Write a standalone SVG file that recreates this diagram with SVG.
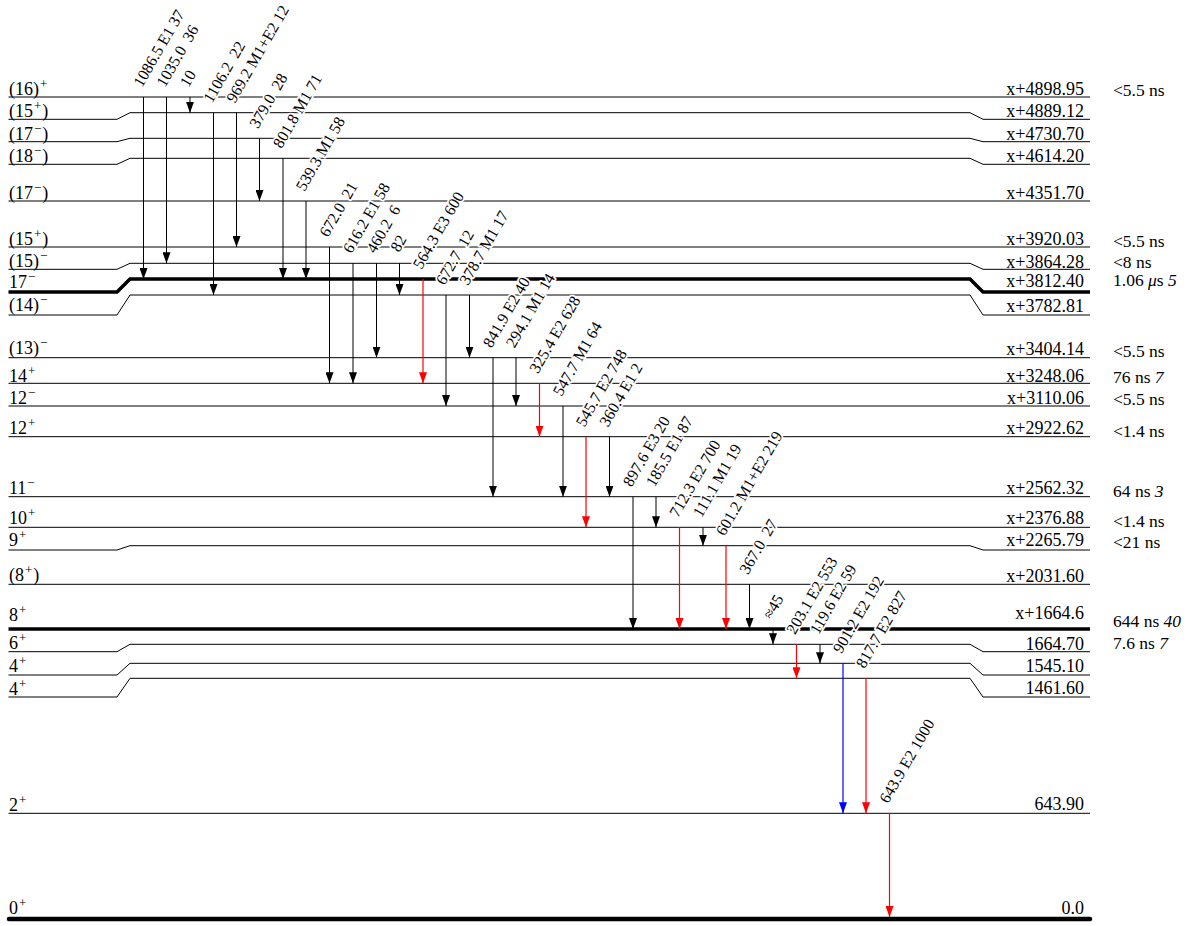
<svg xmlns="http://www.w3.org/2000/svg" width="1197" height="926" viewBox="0 0 1197 926">
<style>
.lv{fill:none;stroke:#000;stroke-width:1}
.thick{stroke-width:3.5}
.gs{stroke-width:4.5;stroke-linecap:round}
text{font-family:"Liberation Serif","Times New Roman",serif;font-size:18px;fill:#000}
.r{text-anchor:end}
.hl{font-size:17.5px}
.sup{font-size:13px}
.it{font-style:italic}
.tl{font-size:16px;stroke:#fff;stroke-width:3.5;paint-order:stroke;stroke-linejoin:round}
.k{stroke:#000;stroke-width:1}
.rd{stroke:#f00;stroke-width:1.2}
.bl{stroke:#00f;stroke-width:1.2}
</style>
<defs>
<marker id="ak" markerUnits="userSpaceOnUse" markerWidth="11" markerHeight="8" viewBox="0 0 11 8" refX="11" refY="4" orient="auto"><path d="M0,0 L11,4 L0,8 Z" fill="#000"/></marker>
<marker id="ar" markerUnits="userSpaceOnUse" markerWidth="11" markerHeight="8" viewBox="0 0 11 8" refX="11" refY="4" orient="auto"><path d="M0,0 L11,4 L0,8 Z" fill="#f00"/></marker>
<marker id="ab" markerUnits="userSpaceOnUse" markerWidth="11" markerHeight="8" viewBox="0 0 11 8" refX="11" refY="4" orient="auto"><path d="M0,0 L11,4 L0,8 Z" fill="#00f"/></marker>
</defs>

<g id="levels">
<g id="L4898"><path class="lv" d="M8.5,97 H1090"/><text x="9" y="95">(16)<tspan class="sup" dx="1" dy="-7">+</tspan></text><text class="r" x="1084" y="95">x+4898.95</text><text class="hl" x="1113" y="96">&lt;5.5 ns</text></g>
<g id="L4889"><path class="lv" d="M8.5,119.3 H117 L130,112.7 H970 L983,119.3 H1090"/><text x="9" y="116.5">(15<tspan class="sup" dx="1" dy="-7">+</tspan><tspan dx="1" dy="7">)</tspan></text><text class="r" x="1084" y="116.5">x+4889.12</text></g>
<g id="L4730"><path class="lv" d="M8.5,141.7 H117 L130,138.3 H970 L983,141.7 H1090"/><text x="9" y="140">(17<tspan class="sup" dx="1" dy="-7">−</tspan><tspan dx="1" dy="7">)</tspan></text><text class="r" x="1084" y="140">x+4730.70</text></g>
<g id="L4614"><path class="lv" d="M8.5,164.3 H117 L130,158.3 H970 L983,164.3 H1090"/><text x="9" y="161.5">(18<tspan class="sup" dx="1" dy="-7">−</tspan><tspan dx="1" dy="7">)</tspan></text><text class="r" x="1084" y="161.5">x+4614.20</text></g>
<g id="L4351"><path class="lv" d="M8.5,201 H1090"/><text x="9" y="198.5">(17<tspan class="sup" dx="1" dy="-7">−</tspan><tspan dx="1" dy="7">)</tspan></text><text class="r" x="1084" y="198.5">x+4351.70</text></g>
<g id="L3920"><path class="lv" d="M8.5,247 H1090"/><text x="9" y="244.5">(15<tspan class="sup" dx="1" dy="-7">+</tspan><tspan dx="1" dy="7">)</tspan></text><text class="r" x="1084" y="245">x+3920.03</text><text class="hl" x="1113" y="246.5">&lt;5.5 ns</text></g>
<g id="L3864"><path class="lv" d="M8.5,269.3 H117 L130,263.3 H970 L983,269.3 H1090"/><text x="9" y="266.5">(15)<tspan class="sup" dx="1" dy="-7">−</tspan></text><text class="r" x="1084" y="267.5">x+3864.28</text><text class="hl" x="1113" y="268">&lt;8 ns</text></g>
<g id="L3812"><path class="lv thick" d="M8.5,292 H117 L130,279 H970 L983,292 H1090"/><text x="9" y="287.5">17<tspan class="sup" dx="1" dy="-7">−</tspan></text><text class="r" x="1084" y="287">x+3812.40</text><text class="hl" x="1113" y="286">1.06 <tspan class="it">μ</tspan>s <tspan class="it">5</tspan></text></g>
<g id="L3782"><path class="lv" d="M8.5,315 H117 L130,295 H970 L983,315 H1090"/><text x="9" y="311">(14)<tspan class="sup" dx="1" dy="-7">−</tspan></text><text class="r" x="1084" y="311.5">x+3782.81</text></g>
<g id="L3404"><path class="lv" d="M8.5,357.7 H1090"/><text x="9" y="354">(13)<tspan class="sup" dx="1" dy="-7">−</tspan></text><text class="r" x="1084" y="355">x+3404.14</text><text class="hl" x="1113" y="357">&lt;5.5 ns</text></g>
<g id="L3248"><path class="lv" d="M8.5,383.3 H1090"/><text x="9" y="381.5">14<tspan class="sup" dx="1" dy="-7">+</tspan></text><text class="r" x="1084" y="381.5">x+3248.06</text><text class="hl" x="1113" y="383">76 ns <tspan class="it">7</tspan></text></g>
<g id="L3110"><path class="lv" d="M8.5,406 H1090"/><text x="9" y="404">12<tspan class="sup" dx="1" dy="-7">−</tspan></text><text class="r" x="1084" y="403.5">x+3110.06</text><text class="hl" x="1113" y="405">&lt;5.5 ns</text></g>
<g id="L2922"><path class="lv" d="M8.5,436.7 H1090"/><text x="9" y="433.5">12<tspan class="sup" dx="1" dy="-7">+</tspan></text><text class="r" x="1084" y="433.5">x+2922.62</text><text class="hl" x="1113" y="436.5">&lt;1.4 ns</text></g>
<g id="L2562"><path class="lv" d="M8.5,496.7 H1090"/><text x="9" y="493.5">11<tspan class="sup" dx="1" dy="-7">−</tspan></text><text class="r" x="1084" y="493.5">x+2562.32</text><text class="hl" x="1113" y="496.5">64 ns <tspan class="it">3</tspan></text></g>
<g id="L2376"><path class="lv" d="M8.5,527.3 H1090"/><text x="9" y="523.5">10<tspan class="sup" dx="1" dy="-7">+</tspan></text><text class="r" x="1084" y="523.5">x+2376.88</text><text class="hl" x="1113" y="526.5">&lt;1.4 ns</text></g>
<g id="L2265"><path class="lv" d="M8.5,550 H117 L130,545.7 H970 L983,550 H1090"/><text x="9" y="545.5">9<tspan class="sup" dx="1" dy="-7">+</tspan></text><text class="r" x="1084" y="545.5">x+2265.79</text><text class="hl" x="1113" y="548.3">&lt;21 ns</text></g>
<g id="L2031"><path class="lv" d="M8.5,584.3 H1090"/><text x="9" y="581">(8<tspan class="sup" dx="1" dy="-7">+</tspan><tspan dx="1" dy="7">)</tspan></text><text class="r" x="1084" y="581.5">x+2031.60</text></g>
<g id="L1664x"><path class="lv thick" d="M8.5,629 H1090"/><text x="9" y="621">8<tspan class="sup" dx="1" dy="-7">+</tspan></text><text class="r" x="1084" y="619">x+1664.6</text><text class="hl" x="1113" y="627">644 ns <tspan class="it">40</tspan></text></g>
<g id="L1664"><path class="lv" d="M8.5,651.7 H117 L130,644.3 H970 L983,651.7 H1090"/><text x="9" y="649">6<tspan class="sup" dx="1" dy="-7">+</tspan></text><text class="r" x="1084" y="649.5">1664.70</text><text class="hl" x="1113" y="648.5">7.6 ns <tspan class="it">7</tspan></text></g>
<g id="L1545"><path class="lv" d="M8.5,675 H117 L130,663.3 H970 L983,675 H1090"/><text x="9" y="672">4<tspan class="sup" dx="1" dy="-7">+</tspan></text><text class="r" x="1084" y="672">1545.10</text></g>
<g id="L1461"><path class="lv" d="M8.5,697 H117 L130,678.3 H970 L983,697 H1090"/><text x="9" y="694.5">4<tspan class="sup" dx="1" dy="-7">+</tspan></text><text class="r" x="1084" y="694">1461.60</text></g>
<g id="L643"><path class="lv" d="M8.5,813.3 H1090"/><text x="9" y="811">2<tspan class="sup" dx="1" dy="-7">+</tspan></text><text class="r" x="1084" y="810">643.90</text></g>
<g id="L0"><path class="lv gs" d="M9,919 H1090"/><text x="9" y="913.5">0<tspan class="sup" dx="1" dy="-7">+</tspan></text><text class="r" x="1084" y="913.5">0.0</text></g>
</g>

<g id="transitions">
<line class="k" x1="143.5" y1="97" x2="143.5" y2="279" marker-end="url(#ak)"/>
<line class="k" x1="166.5" y1="97" x2="166.5" y2="263.3" marker-end="url(#ak)"/>
<line class="k" x1="190" y1="97" x2="190" y2="112.7" marker-end="url(#ak)"/>
<line class="k" x1="213.5" y1="112.7" x2="213.5" y2="295" marker-end="url(#ak)"/>
<line class="k" x1="236.5" y1="112.7" x2="236.5" y2="247" marker-end="url(#ak)"/>
<line class="k" x1="259.5" y1="138.3" x2="259.5" y2="201" marker-end="url(#ak)"/>
<line class="k" x1="283" y1="158.3" x2="283" y2="279" marker-end="url(#ak)"/>
<line class="k" x1="306" y1="201" x2="306" y2="279" marker-end="url(#ak)"/>
<line class="k" x1="329.5" y1="247" x2="329.5" y2="383.3" marker-end="url(#ak)"/>
<line class="k" x1="353" y1="263.3" x2="353" y2="383.3" marker-end="url(#ak)"/>
<line class="k" x1="376.5" y1="263.3" x2="376.5" y2="357.7" marker-end="url(#ak)"/>
<line class="k" x1="399.5" y1="263.3" x2="399.5" y2="295" marker-end="url(#ak)"/>
<line class="rd" x1="423" y1="279" x2="423" y2="383.3" marker-end="url(#ar)"/>
<line class="k" x1="446" y1="295" x2="446" y2="406" marker-end="url(#ak)"/>
<line class="k" x1="469.5" y1="295" x2="469.5" y2="357.7" marker-end="url(#ak)"/>
<line class="k" x1="493" y1="357.7" x2="493" y2="496.7" marker-end="url(#ak)"/>
<line class="k" x1="516" y1="357.7" x2="516" y2="406" marker-end="url(#ak)"/>
<line class="rd" x1="539.5" y1="383.3" x2="539.5" y2="436.7" marker-end="url(#ar)"/>
<line class="k" x1="563" y1="406" x2="563" y2="496.7" marker-end="url(#ak)"/>
<line class="rd" x1="586" y1="436.7" x2="586" y2="527.3" marker-end="url(#ar)"/>
<line class="k" x1="609.5" y1="436.7" x2="609.5" y2="496.7" marker-end="url(#ak)"/>
<line class="k" x1="633" y1="496.7" x2="633" y2="629" marker-end="url(#ak)"/>
<line class="k" x1="656" y1="496.7" x2="656" y2="527.3" marker-end="url(#ak)"/>
<line class="rd" x1="679.5" y1="527.3" x2="679.5" y2="629" marker-end="url(#ar)"/>
<line class="k" x1="703" y1="527.3" x2="703" y2="545.7" marker-end="url(#ak)"/>
<line class="rd" x1="726" y1="545.7" x2="726" y2="629" marker-end="url(#ar)"/>
<line class="k" x1="749.5" y1="584.3" x2="749.5" y2="629" marker-end="url(#ak)"/>
<line class="k" x1="773" y1="629" x2="773" y2="644.3" marker-end="url(#ak)"/>
<line class="rd" x1="796.5" y1="644.3" x2="796.5" y2="678.3" marker-end="url(#ar)"/>
<line class="k" x1="820" y1="644.3" x2="820" y2="663.3" marker-end="url(#ak)"/>
<line class="bl" x1="843" y1="663.3" x2="843" y2="813.3" marker-end="url(#ab)"/>
<line class="rd" x1="866" y1="678.3" x2="866" y2="813.3" marker-end="url(#ar)"/>
<line class="rd" x1="889.5" y1="813.3" x2="889.5" y2="917" marker-end="url(#ar)"/>

<text class="tl" transform="translate(142,88) rotate(-60)">1086.5 E1 37</text>
<text class="tl" transform="translate(165,88) rotate(-60)">1035.0&#160; 36</text>
<text class="tl" transform="translate(188.5,88) rotate(-60)">10</text>
<text class="tl" transform="translate(212,103.7) rotate(-60)">1106.2&#160; 22</text>
<text class="tl" transform="translate(235,103.7) rotate(-60)">969.2 M1+E2 12</text>
<text class="tl" transform="translate(258,129.3) rotate(-60)">379.0&#160; 28</text>
<text class="tl" transform="translate(281.5,149.3) rotate(-60)">801.8 M1 71</text>
<text class="tl" transform="translate(304.5,192) rotate(-60)">539.3 M1 58</text>
<text class="tl" transform="translate(328,238) rotate(-60)">672.0&#160; 21</text>
<text class="tl" transform="translate(351.5,254.3) rotate(-60)">616.2 E1 58</text>
<text class="tl" transform="translate(375,254.3) rotate(-60)">460.2&#160; 6</text>
<text class="tl" transform="translate(399,253) rotate(-60)">82</text>
<text class="tl" transform="translate(421.5,270) rotate(-60)">564.3 E3 600</text>
<text class="tl" transform="translate(444.5,286) rotate(-60)">672.7&#160; 12</text>
<text class="tl" transform="translate(468,286) rotate(-60)">378.7 M1 17</text>
<text class="tl" transform="translate(491.5,348.7) rotate(-60)">841.9 E2 40</text>
<text class="tl" transform="translate(514.5,348.7) rotate(-60)">294.1 M1 14</text>
<text class="tl" transform="translate(538,374.3) rotate(-60)">325.4 E2 628</text>
<text class="tl" transform="translate(561.5,397) rotate(-60)">547.7 M1 64</text>
<text class="tl" transform="translate(584.5,427.7) rotate(-60)">545.7 E2 748</text>
<text class="tl" transform="translate(608,427.7) rotate(-60)">360.4 E1 2</text>
<text class="tl" transform="translate(631.5,487.7) rotate(-60)">897.6 E3 20</text>
<text class="tl" transform="translate(654.5,487.7) rotate(-60)">185.5 E1 87</text>
<text class="tl" transform="translate(678,518.3) rotate(-60)">712.3 E2 700</text>
<text class="tl" transform="translate(701.5,518.3) rotate(-60)">111.1 M1 19</text>
<text class="tl" transform="translate(724.5,536.7) rotate(-60)">601.2 M1+E2 219</text>
<text class="tl" transform="translate(748,575.3) rotate(-60)">367.0&#160; 27</text>
<text class="tl" transform="translate(771.5,620) rotate(-60)">≈45</text>
<text class="tl" transform="translate(795,635.3) rotate(-60)">203.1 E2 553</text>
<text class="tl" transform="translate(818.5,635.3) rotate(-60)">119.6 E2 59</text>
<text class="tl" transform="translate(841.5,654.3) rotate(-60)">901.2 E2 192</text>
<text class="tl" transform="translate(864.5,669.3) rotate(-60)">817.7 E2 827</text>
<text class="tl" transform="translate(888,804.3) rotate(-60)">643.9 E2 1000</text>
</g>
</svg>
